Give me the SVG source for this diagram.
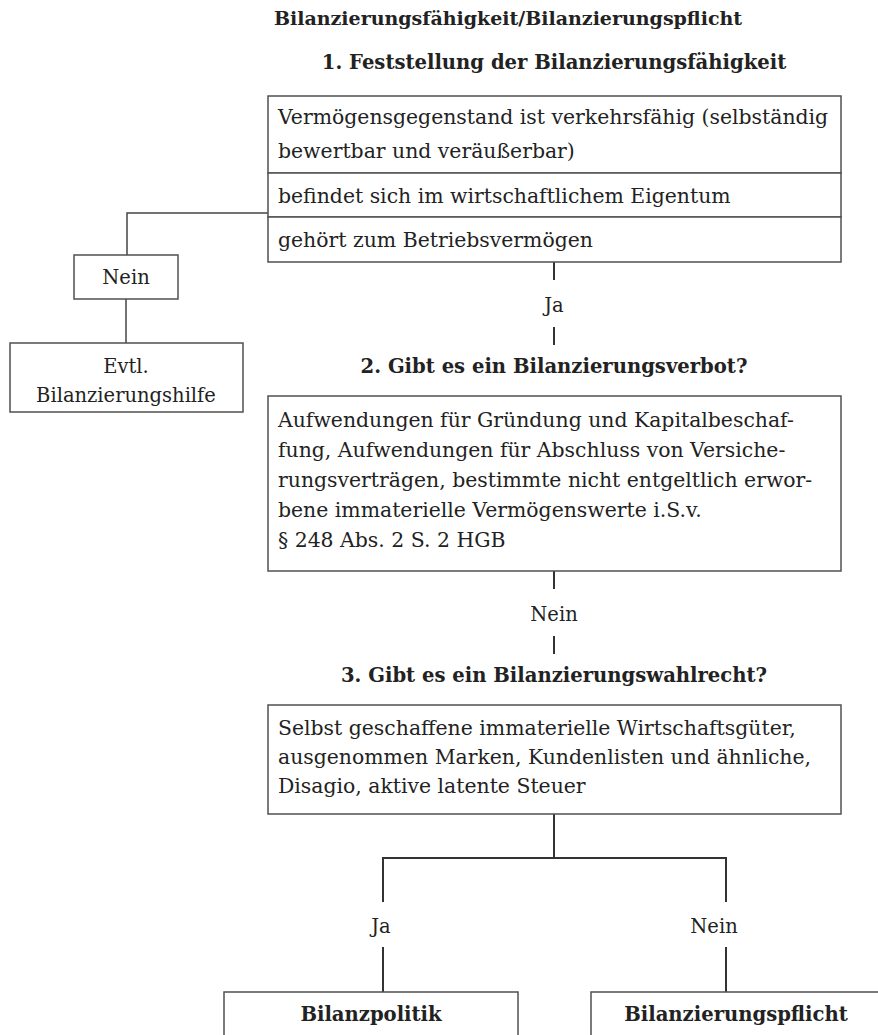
<svg xmlns="http://www.w3.org/2000/svg" width="878" height="1035" viewBox="0 0 878 1035">
<style>
.bg{fill:#fff}
.box{fill:#fff;stroke:#505050;stroke-width:1.5}
.t{font-family:"DejaVu Serif","Liberation Serif",serif;font-size:20.4px;fill:#222}
.s{font-size:19.5px}
.b{font-weight:bold;font-size:19.6px}
.tt{font-size:19px}
.c{text-anchor:middle}
.ln{stroke:#333;stroke-width:2;fill:none}
.thin{stroke:#444;stroke-width:1.5;fill:none}
</style>
<rect class="bg" x="0" y="0" width="878" height="1035"/>
<g id="connectors">
<polyline class="thin" points="268,213 127,213 127,255"/>
<line class="thin" x1="126" y1="299" x2="126" y2="343"/>
<line class="ln" x1="554" y1="262" x2="554" y2="280"/>
<line class="ln" x1="554" y1="327" x2="554" y2="345"/>
<line class="ln" x1="554" y1="571" x2="554" y2="589"/>
<line class="ln" x1="554" y1="636" x2="554" y2="654"/>
<line class="ln" x1="554" y1="814" x2="554" y2="858"/>
<polyline class="ln" points="383,902 383,858 726,858 726,902"/>
<line class="ln" x1="383" y1="947" x2="383" y2="992"/>
<line class="ln" x1="726" y1="947" x2="726" y2="992"/>
</g>
<g id="title"><text class="t b tt c" x="508" y="25">Bilanzierungsfähigkeit/Bilanzierungspflicht</text></g>
<g id="head1"><text class="t b c" x="554" y="69">1. Feststellung der Bilanzierungsfähigkeit</text></g>
<g id="row1"><rect class="box" x="268" y="96" width="573" height="77"/>
<text class="t" x="278" y="124">Vermögensgegenstand ist verkehrsfähig (selbständig</text>
<text class="t" x="278" y="158">bewertbar und veräußerbar)</text></g>
<g id="row2"><rect class="box" x="268" y="173" width="573" height="44"/>
<text class="t" x="278" y="203">befindet sich im wirtschaftlichem Eigentum</text></g>
<g id="row3"><rect class="box" x="268" y="217" width="573" height="45"/>
<text class="t" x="278" y="247">gehört zum Betriebsvermögen</text></g>
<g id="neinLeft"><rect class="box" x="74" y="255" width="104" height="44"/>
<text class="t s c" x="126" y="284">Nein</text></g>
<g id="evtl"><rect class="box" x="10" y="343" width="233" height="69"/>
<text class="t s c" x="126" y="373">Evtl.</text>
<text class="t s c" x="126" y="402">Bilanzierungshilfe</text></g>
<g id="ja1"><text class="t s c" x="554" y="312">Ja</text></g>
<g id="head2"><text class="t b c" x="554" y="373">2. Gibt es ein Bilanzierungsverbot?</text></g>
<g id="box2"><rect class="box" x="268" y="396" width="573" height="175"/>
<text class="t" x="278" y="427">Aufwendungen für Gründung und Kapitalbeschaf-</text>
<text class="t" x="278" y="457">fung, Aufwendungen für Abschluss von Versiche-</text>
<text class="t" x="278" y="487">rungsverträgen, bestimmte nicht entgeltlich erwor-</text>
<text class="t" x="278" y="517">bene immaterielle Vermögenswerte i.S.v.</text>
<text class="t" x="278" y="547">§ 248 Abs. 2 S. 2 HGB</text></g>
<g id="nein2"><text class="t s c" x="554" y="621">Nein</text></g>
<g id="head3"><text class="t b c" x="554" y="682">3. Gibt es ein Bilanzierungswahlrecht?</text></g>
<g id="box3"><rect class="box" x="268" y="705" width="573" height="109"/>
<text class="t" x="278" y="735">Selbst geschaffene immaterielle Wirtschaftsgüter,</text>
<text class="t" x="278" y="764">ausgenommen Marken, Kundenlisten und ähnliche,</text>
<text class="t" x="278" y="793">Disagio, aktive latente Steuer</text></g>
<g id="ja3"><text class="t s c" x="381" y="933">Ja</text></g>
<g id="nein3"><text class="t s c" x="714" y="933">Nein</text></g>
<g id="bilanzpolitik"><rect class="box" x="224" y="992" width="294" height="60"/>
<text class="t b c" x="371" y="1021">Bilanzpolitik</text></g>
<g id="bilanzierungspflicht"><rect class="box" x="591" y="992" width="300" height="60"/>
<text class="t b c" x="736" y="1021">Bilanzierungspflicht</text></g>
</svg>
